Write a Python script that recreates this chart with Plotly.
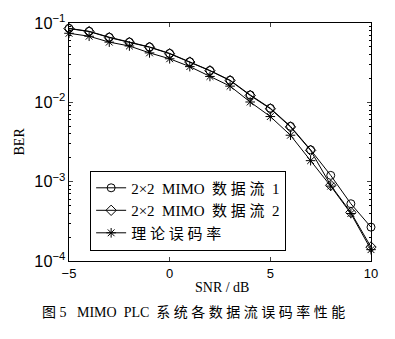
import plotly.graph_objects as go

snr = [-5, -4, -3, -2, -1, 0, 1, 2, 3, 4, 5, 6, 7, 8, 9, 10]
ber_stream1 = [0.0856, 0.0786, 0.0662, 0.0574, 0.0499, 0.0414, 0.0325, 0.0252,
               0.0190, 0.0124, 0.00843, 0.00499, 0.00252, 0.00120, 0.000527, 0.000267]
ber_stream2 = [0.0850, 0.0780, 0.0655, 0.0570, 0.0495, 0.0410, 0.0322, 0.0250,
               0.0188, 0.0122, 0.00830, 0.00490, 0.00248, 0.000900, 0.000410, 0.000150]
ber_theory = [0.0742, 0.0681, 0.0574, 0.0513, 0.0420, 0.0354, 0.0282, 0.0212,
              0.0160, 0.0101, 0.00662, 0.00385, 0.00184, 0.000879, 0.000397, 0.000139]

names = ["2×2\u00a0 MIMO\u00a0 数 据 流\u00a0 1", "2×2\u00a0 MIMO\u00a0 数 据 流\u00a0 2", "理 论 误 码 率"]
x_ticks = [-5, 0, 5, 10]
caption = "图 5\u00a0\u00a0 MIMO\u00a0 PLC\u00a0 系 统 各 数 据 流 误 码 率 性 能"

serif = "Liberation Serif, Noto Sans CJK SC, serif"
sans = "Liberation Sans, Arial, sans-serif"

fig = go.Figure()
series = [(ber_stream1, "circle-open"), (ber_stream2, "diamond-open"), (ber_theory, "asterisk-open")]
for (vals, sym), nm in zip(series, names):
    fig.add_trace(go.Scatter(
        x=snr, y=vals, name=nm, mode="lines+markers", cliponaxis=False,
        line=dict(color="black", width=1),
        marker=dict(symbol=sym, size=8, color="black", line=dict(color="black", width=1)),
    ))

fig.update_layout(
    width=395, height=339,
    margin=dict(l=69, r=24, t=18, b=78),
    paper_bgcolor="white", plot_bgcolor="white",
    showlegend=True,
    legend=dict(
        x=0.07, y=0.38, xanchor="left", yanchor="top",
        bordercolor="black", borderwidth=1, bgcolor="white",
        font=dict(family=serif, size=15, color="black"),
        itemwidth=30, tracegroupgap=0,
    ),
    xaxis=dict(
        range=[-5, 10], tickvals=x_ticks, ticks="inside", ticklen=4,
        showline=True, linecolor="black", linewidth=1, mirror="allticks",
        showgrid=False, zeroline=False,
        tickfont=dict(family=sans, size=13, color="black"),
    ),
    yaxis=dict(
        type="log", range=[-4, -1], dtick=1, tick0=0, exponentformat="power",
        ticks="inside", ticklen=4,
        showline=True, linecolor="black", linewidth=1, mirror="allticks",
        showgrid=False, zeroline=False,
        tickfont=dict(family=sans, size=13, color="black"),
        minor=dict(ticks="inside", ticklen=2, dtick="D1", tickcolor="black", showgrid=False),
    ),
)
fig.add_annotation(text="BER", xref="paper", yref="paper", x=(20 - 69) / 302, y=(261 - 139) / 243,
                   showarrow=False, textangle=-90, xanchor="center", yanchor="middle",
                   font=dict(family=serif, size=14, color="black"))
fig.add_annotation(text="SNR / dB", xref="paper", yref="paper", x=(222 - 69) / 302, y=(261 - 288) / 243,
                   showarrow=False, xanchor="center", yanchor="middle",
                   font=dict(family=serif, size=14, color="black"))
fig.add_annotation(text=caption, xref="paper", yref="paper", x=(193 - 69) / 302, y=(261 - 313) / 243,
                   showarrow=False, xanchor="center", yanchor="middle",
                   font=dict(family=serif, size=14, color="black"))

fig.write_html("out.html")
